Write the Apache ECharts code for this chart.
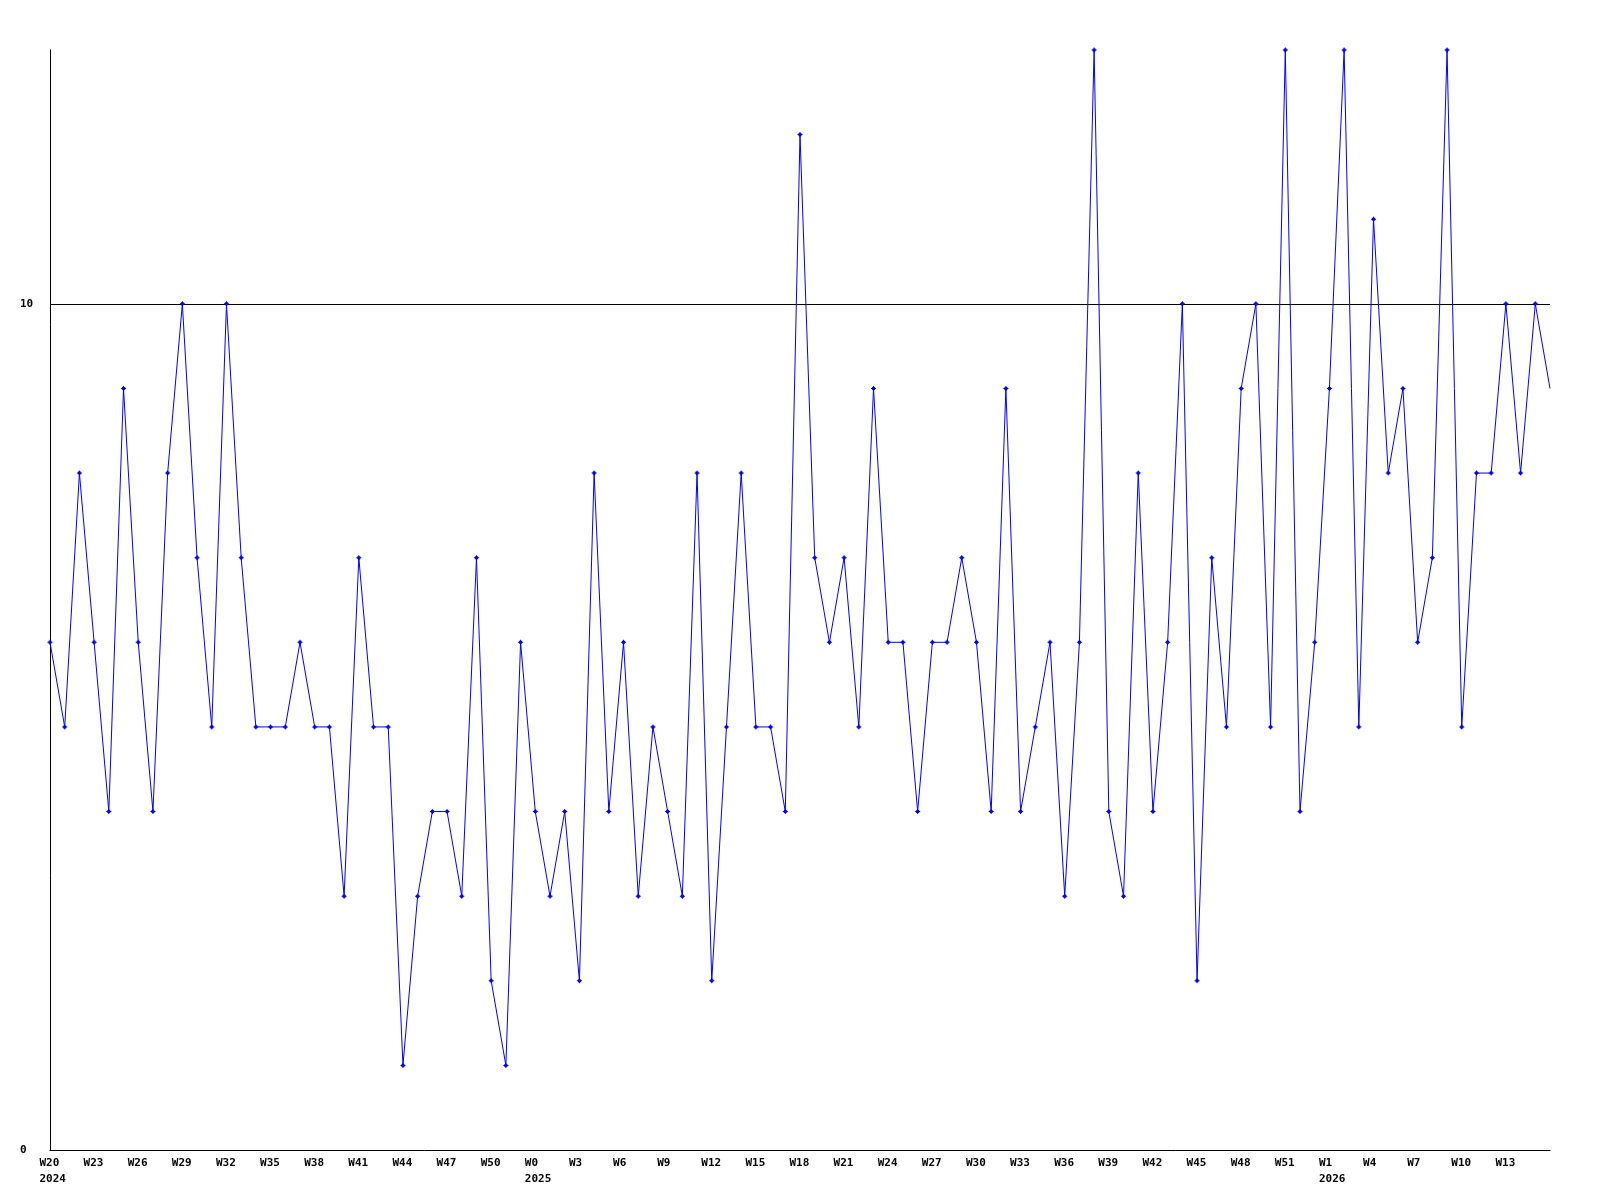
<!DOCTYPE html>
<html>
<head>
<meta charset="utf-8">
<script src="https://cdn.jsdelivr.net/npm/echarts@6/dist/echarts.min.js"></script>
<style>
  html, body { margin: 0; padding: 0; background: #fff; }
  #chart { width: 1600px; height: 1200px; }
</style>
</head>
<body>
<div id="chart"></div>
<script>
// weeks per year shown on the axis (first and last week number)
const years = [2024, 2025, 2026]
const weekFrom = [20, 0, 0]
const weekTo = [52, 52, 16]

// weekly counts
const values = [
  6, 5, 8, 6, 4, 9, 6, 4, 8, 10,
  7, 5, 10, 7, 5, 5, 5, 6, 5, 5,
  3, 7, 5, 5, 1, 3, 4, 4, 3, 7,
  2, 1, 6, 4, 3, 4, 2, 8, 4, 6,
  3, 5, 4, 3, 8, 2, 5, 8, 5, 5,
  4, 12, 7, 6, 7, 5, 9, 6, 6, 4,
  6, 6, 7, 6, 4, 9, 4, 5, 6, 3,
  6, 13, 4, 3, 8, 4, 6, 10, 2, 7,
  5, 9, 10, 5, 13, 4, 6, 9, 13, 5,
  11, 8, 9, 6, 7, 13, 5, 8, 8, 10,
  8, 10, 9
]

const yTicks = [0, 10]
const yMax = 13

let weeks = []
let weekYear = []
years.forEach((y, k) => {
  for (let w = weekFrom[k]; w <= weekTo[k]; w++) {
    weeks.push('W' + w)
    weekYear.push(y)
  }
})

const font = {
  fontFamily: 'DejaVu Sans Mono',
  fontWeight: 'bold',
  fontSize: 11,
  color: '#000'
}

let c = echarts.init(document.getElementById('chart'))
c.setOption({
  animation: false,
  backgroundColor: '#fff',
  grid: {
    left: 50,
    right: 50,
    top: 50,
    bottom: 50
  },
  xAxis: {
    type: 'category',
    boundaryGap: false,
    data: weeks,
    axisLine: {
      lineStyle: { color: '#000', width: 1 }
    },
    axisTick: { show: false },
    splitLine: { show: false },
    axisLabel: {
      interval: 2,
      margin: 5,
      showMaxLabel: false,
      formatter: (v, i) => {
        // year goes under the first label of each year
        let s = '{w|' + v + '}'
        if (i === 0 || weekYear[i - 3] !== weekYear[i]) {
          s += '\n{w|' + weekYear[i] + '}'
        }
        return s
      },
      rich: {
        w: Object.assign({ width: 21, align: 'left', lineHeight: 16 }, font)
      }
    }
  },
  yAxis: {
    type: 'value',
    min: yTicks[0],
    max: yMax,
    interval: yTicks[1] - yTicks[0],
    axisLine: {
      show: true,
      lineStyle: { color: '#000', width: 1 }
    },
    axisTick: { show: false },
    axisLabel: Object.assign({
      align: 'left',
      margin: 30,
      showMaxLabel: false
    }, font),
    splitLine: {
      show: true,
      showMinLine: false,
      showMaxLine: false,
      lineStyle: { color: '#000', width: 1 }
    }
  },
  series: [
    {
      type: 'line',
      data: values.map((v, i) => (i === values.length - 1 ? { value: v, symbol: 'none' } : v)),
      // small plus marker with a thick centre
      symbol: 'path://M2,0h1v1h1v1h1v1h-1v1h-1v1h-1v-1h-1v-1h-1v-1h1v-1h1z',
      symbolSize: 5,
      showAllSymbol: true,
      lineStyle: { color: '#0000ff', width: 1 },
      itemStyle: { color: '#0000ff' },
      emphasis: { disabled: true }
    }
  ]
})
</script>
</body>
</html>
